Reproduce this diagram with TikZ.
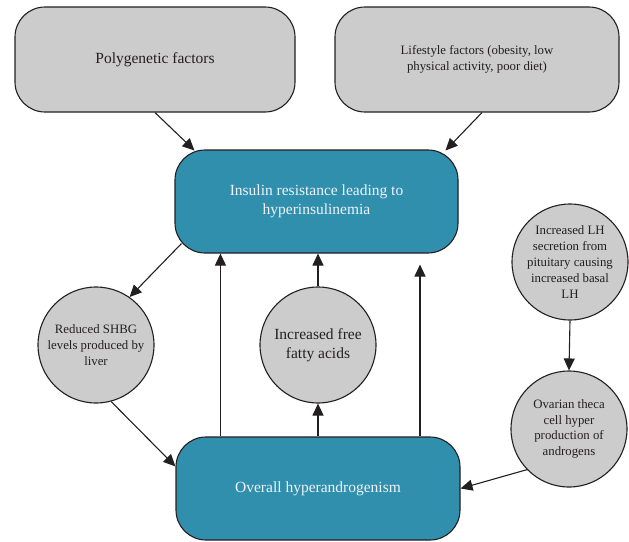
\documentclass[tikz,border=0pt]{standalone}
\usepackage{fontspec}
\setmainfont{Liberation Serif}
\usetikzlibrary{arrows.meta}
\definecolor{greyfill}{HTML}{CCCCCC}
\definecolor{tealfill}{HTML}{318FAE}
\definecolor{inkc}{HTML}{231F20}
\definecolor{lighttext}{HTML}{EEF4F7}
\tikzset{
  greybox/.style={draw=inkc, line width=1.1pt, fill=greyfill, rounded corners=30pt, align=center, text=inkc, inner sep=0pt},
  tealbox/.style={draw=inkc, line width=1.1pt, fill=tealfill, rounded corners=30pt, align=center, text=lighttext, inner sep=0pt},
  greycirc/.style={draw=inkc, line width=1.1pt, fill=greyfill, circle, minimum size=116pt, align=center, text=inkc, inner sep=0pt},
  bigtext/.style={font=\fontsize{15.5}{18.7}\selectfont},
  smalltext/.style={font=\fontsize{12.8}{15.8}\selectfont},
  arr/.style={draw=inkc, line width=1.1pt, -{Triangle[length=12pt,width=11pt]}}
}
\begin{document}
\begin{tikzpicture}[x=1pt,y=-1pt]
\useasboundingbox (0,0) rectangle (629,541);
\node[greybox, bigtext, minimum width=280pt, minimum height=105pt] (poly) at (155,59.5) {Polygenetic factors};
\node[greybox, smalltext, minimum width=284pt, minimum height=105pt] (life) at (477,59.5) {Lifestyle factors (obesity, low\\physical activity, poor diet)};
\node[tealbox, bigtext, minimum width=283pt, minimum height=103pt] (ins) at (316.5,201.5) {Insulin resistance leading to\\hyperinsulinemia};
\node[tealbox, bigtext, minimum width=284pt, minimum height=103pt] (ov) at (318,488.5) {Overall hyperandrogenism};
\node[greycirc, smalltext] (shbg) at (96,345) {Reduced SHBG\\levels produced by\\liver};
\node[greycirc, bigtext] (ffa) at (318,345) {Increased free\\fatty acids};
\node[greycirc, smalltext] (lh) at (570,262) {Increased LH\\secretion from\\pituitary causing\\increased basal\\LH};
\node[greycirc, smalltext] (ovar) at (569,429) {Ovarian theca\\cell hyper\\production of\\androgens};

\draw[arr] (poly.south) -- ([xshift=20pt,yshift=-1pt]ins.north west);
\draw[arr] ([xshift=5pt]life.south) -- ([xshift=-13pt,yshift=-1pt]ins.north east);
\draw[arr] ([xshift=7pt,yshift=10pt]ins.south west) -- (shbg.55);
\draw[arr] (shbg.-75) -- ([yshift=-30pt]ov.north west);
\draw[arr] ([xshift=45pt]ov.north west) -- ([xshift=46pt]ins.south west);
\draw[arr] (ov.north) -- (ffa.south);
\draw[arr] (ffa.north) -- (ffa.north |- ins.south);
\coordinate (freeend) at ([xshift=102pt,yshift=-11pt]ov.north |- ins.south);
\draw[arr] ([xshift=102pt]ov.north) -- (freeend);
\draw[arr] (lh.south) -- (ovar.north);
\draw[arr] (ovar.224) -- (ov.east);
\end{tikzpicture}
\end{document}
